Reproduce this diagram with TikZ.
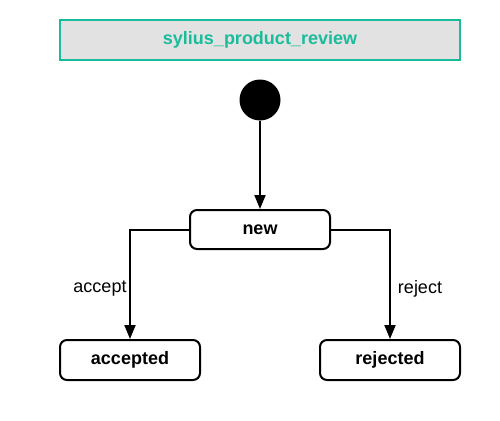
\documentclass[tikz,border=0pt]{standalone}
\usepackage{fontspec}
\setmainfont{Liberation Sans}
\usetikzlibrary{arrows.meta}
\definecolor{teal1}{HTML}{1ABC9C}
\definecolor{titlebg}{HTML}{E2E2E2}
\tikzset{
  statebox/.style={draw=black, line width=2pt, rounded corners=7pt, fill=white,
    minimum width=140pt, minimum height=39pt, inner sep=0pt,
    font=\fontsize{18}{21}\selectfont\bfseries},
  titlebox/.style={draw=teal1, line width=2pt, fill=titlebg,
    minimum width=400pt, minimum height=40pt, inner sep=0pt,
    text=teal1, font=\fontsize{18}{21}\selectfont\bfseries},
  initstate/.style={circle, fill=black, minimum size=41pt, inner sep=0pt},
  conn/.style={draw=black, line width=2pt, -{Triangle[length=14pt,width=11pt]}},
  edgelabel/.style={font=\fontsize{18}{21}\selectfont, inner sep=0pt}
}
\begin{document}
\begin{tikzpicture}[x=1pt,y=-1pt]
\useasboundingbox (0,0) rectangle (500,420);
\node[titlebox] (title) at (260,40) {sylius\_product\_review};
\node[initstate] (init) at (260,100) {};
\node[statebox] (new) at (260,229.5) {new};
\node[statebox, minimum height=40pt] (accepted) at (130,360) {accepted};
\node[statebox, minimum height=40pt] (rejected) at (390,360) {rejected};
\draw[conn] (init) -- (new);
\draw[conn] (new.west) -| (accepted.north);
\draw[conn] (new.east) -| (rejected.north);
\node[edgelabel] (lacc) at (100,289) {accept};
\node[edgelabel] (lrej) at (420,289) {reject};
\end{tikzpicture}
\end{document}
